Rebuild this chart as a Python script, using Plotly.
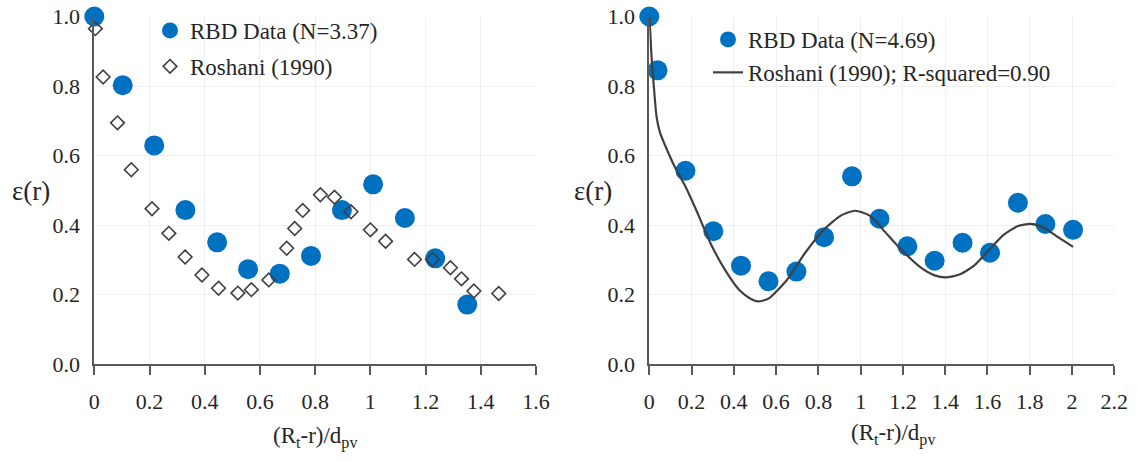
import plotly.graph_objects as go

# ---------------- data ----------------
left_rbd_x = [0.0, 0.103, 0.217, 0.330, 0.445, 0.557, 0.672, 0.785, 0.897, 1.010, 1.125, 1.235, 1.351]
left_rbd_y = [1.0, 0.802, 0.629, 0.443, 0.350, 0.273, 0.260, 0.311, 0.443, 0.517, 0.420, 0.304, 0.171]

left_ros_x = [0.004, 0.032, 0.084, 0.134, 0.209, 0.270, 0.329, 0.390, 0.450, 0.520, 0.569, 0.632, 0.697,
              0.726, 0.755, 0.819, 0.870, 0.930, 1.000, 1.055, 1.160, 1.225, 1.290, 1.330, 1.375, 1.465]
left_ros_y = [0.965, 0.826, 0.694, 0.559, 0.447, 0.376, 0.308, 0.256, 0.218, 0.204, 0.214, 0.242, 0.333,
              0.390, 0.442, 0.487, 0.480, 0.438, 0.386, 0.353, 0.301, 0.301, 0.277, 0.245, 0.210, 0.203]

right_rbd_x = [0.0, 0.039, 0.171, 0.303, 0.434, 0.564, 0.696, 0.827, 0.959, 1.089, 1.221, 1.350, 1.482,
               1.612, 1.744, 1.874, 2.005]
right_rbd_y = [1.0, 0.845, 0.556, 0.382, 0.283, 0.238, 0.266, 0.365, 0.540, 0.418, 0.339, 0.297, 0.349,
               0.320, 0.464, 0.403, 0.386]

right_ros_x = [0.0, 0.005, 0.010, 0.020, 0.034, 0.051, 0.077, 0.120, 0.171, 0.222, 0.290, 0.359, 0.427,
               0.479, 0.516, 0.564, 0.650, 0.735, 0.820, 0.906, 0.974, 1.043, 1.111, 1.197, 1.282, 1.350,
               1.402, 1.470, 1.538, 1.607, 1.675, 1.744, 1.803, 1.863, 1.932, 2.005]
right_ros_y = [1.0, 0.95, 0.89, 0.81, 0.713, 0.665, 0.626, 0.568, 0.511, 0.443, 0.347, 0.270, 0.212,
               0.188, 0.180, 0.188, 0.241, 0.318, 0.383, 0.427, 0.441, 0.427, 0.383, 0.326, 0.279, 0.255,
               0.249, 0.258, 0.284, 0.328, 0.371, 0.397, 0.403, 0.393, 0.366, 0.337]

left_names = ["RBD Data (N=3.37)", "Roshani (1990)"]
right_names = ["RBD Data (N=4.69)", "Roshani (1990); R-squared=0.90"]
x_title = "(R<sub>t</sub>-r)/d<sub>pv</sub>"
y_title = "ε(r)"

# ---------------- style ----------------
W, H = 1137, 461
FONT = "Liberation Serif"
BLUE = "#0070C0"
DARK = "#404040"
AXIS = "#595959"
GRID = "#efefef"
TXT = "#262626"

fig = go.Figure()

fig.add_trace(go.Scatter(x=left_rbd_x, y=left_rbd_y, mode="markers", name=left_names[0],
                         marker=dict(color=BLUE, size=20), cliponaxis=False,
                         xaxis="x", yaxis="y", legend="legend", legendgroup="a"))
fig.add_trace(go.Scatter(x=left_ros_x, y=left_ros_y, mode="markers", name=left_names[1],
                         marker=dict(symbol="diamond-open", size=10.5, color=DARK, line=dict(width=1.6, color=DARK)),
                         cliponaxis=False, xaxis="x", yaxis="y", legend="legend", legendgroup="b"))
fig.add_trace(go.Scatter(x=right_rbd_x, y=right_rbd_y, mode="markers", name=right_names[0],
                         marker=dict(color=BLUE, size=20), cliponaxis=False,
                         xaxis="x2", yaxis="y2", legend="legend2", legendgroup="c"))
fig.add_trace(go.Scatter(x=right_ros_x, y=right_ros_y, mode="lines", name=right_names[1],
                         line=dict(color=DARK, width=2.2, shape="spline", smoothing=0.6), cliponaxis=False,
                         xaxis="x2", yaxis="y2", legend="legend2", legendgroup="d"))

ydom = [(H - 364) / H, (H - 16.5) / H]
xdom1 = [94.3 / W, 536.0 / W]
xdom2 = [649.3 / W, 1114.3 / W]

xcommon = dict(showline=True, linecolor=AXIS, linewidth=2, ticks="outside", ticklen=9, tickwidth=2,
               tickcolor=AXIS, showgrid=True, gridcolor=GRID, gridwidth=1, zeroline=False,
               tickfont=dict(family=FONT, size=22, color=TXT), ticklabelstandoff=8, automargin=False)
ycommon = dict(showline=True, linecolor=AXIS, linewidth=2, ticks="", showgrid=True, gridcolor=GRID,
               gridwidth=1, zeroline=False, range=[0, 1.0], tickvals=[0, 0.2, 0.4, 0.6, 0.8, 1.0],
               tickformat=".1f", tickfont=dict(family=FONT, size=22, color=TXT), ticklabelstandoff=8,
               automargin=False)

fig.update_layout(
    width=W, height=H, margin=dict(l=0, r=0, t=0, b=0, autoexpand=False),
    paper_bgcolor="white", plot_bgcolor="white",
    font=dict(family=FONT, size=22, color=TXT),
    xaxis=dict(domain=xdom1, range=[0, 1.6], tickvals=[0, 0.2, 0.4, 0.6, 0.8, 1.0, 1.2, 1.4, 1.6],
               ticktext=["0", "0.2", "0.4", "0.6", "0.8", "1", "1.2", "1.4", "1.6"], anchor="y", **xcommon),
    yaxis=dict(domain=ydom, anchor="x", **ycommon),
    xaxis2=dict(domain=xdom2, range=[0, 2.2],
                tickvals=[0, 0.2, 0.4, 0.6, 0.8, 1.0, 1.2, 1.4, 1.6, 1.8, 2.0, 2.2],
                ticktext=["0", "0.2", "0.4", "0.6", "0.8", "1", "1.2", "1.4", "1.6", "1.8", "2", "2.2"],
                anchor="y2", **xcommon),
    yaxis2=dict(domain=ydom, anchor="x2", **ycommon),
    legend=dict(x=150 / W, y=1 - 9 / H, xanchor="left", yanchor="top", bgcolor="rgba(0,0,0,0)",
                font=dict(family=FONT, size=23, color=TXT), tracegroupgap=3, itemsizing="trace"),
    legend2=dict(x=708 / W, y=1 - 18 / H, xanchor="left", yanchor="top", bgcolor="rgba(0,0,0,0)",
                 font=dict(family=FONT, size=23, color=TXT), tracegroupgap=0, itemsizing="trace"),
    showlegend=True,
)

# x-axis line extends slightly left of the y axis
for xr, yr in (("x", "y"), ("x2", "y2")):
    fig.add_shape(type="line", xref=xr, yref=yr, xsizemode="pixel", xanchor=0, x0=-9, x1=0,
                  y0=0, y1=0, line=dict(color=AXIS, width=2))

# axis titles as annotations
ann_common = dict(xref="paper", yref="paper", showarrow=False, xanchor="center", yanchor="middle")
fig.add_annotation(text=x_title, x=315 / W, y=1 - 437 / H, font=dict(family=FONT, size=23, color=TXT), **ann_common)
fig.add_annotation(text=x_title, x=893 / W, y=1 - 434 / H, font=dict(family=FONT, size=23, color=TXT), **ann_common)
fig.add_annotation(text=y_title, x=31 / W, y=1 - 191 / H, font=dict(family=FONT, size=27, color=TXT), **ann_common)
fig.add_annotation(text=y_title, x=593 / W, y=1 - 191 / H, font=dict(family=FONT, size=27, color=TXT), **ann_common)

fig.write_html("out.html")
